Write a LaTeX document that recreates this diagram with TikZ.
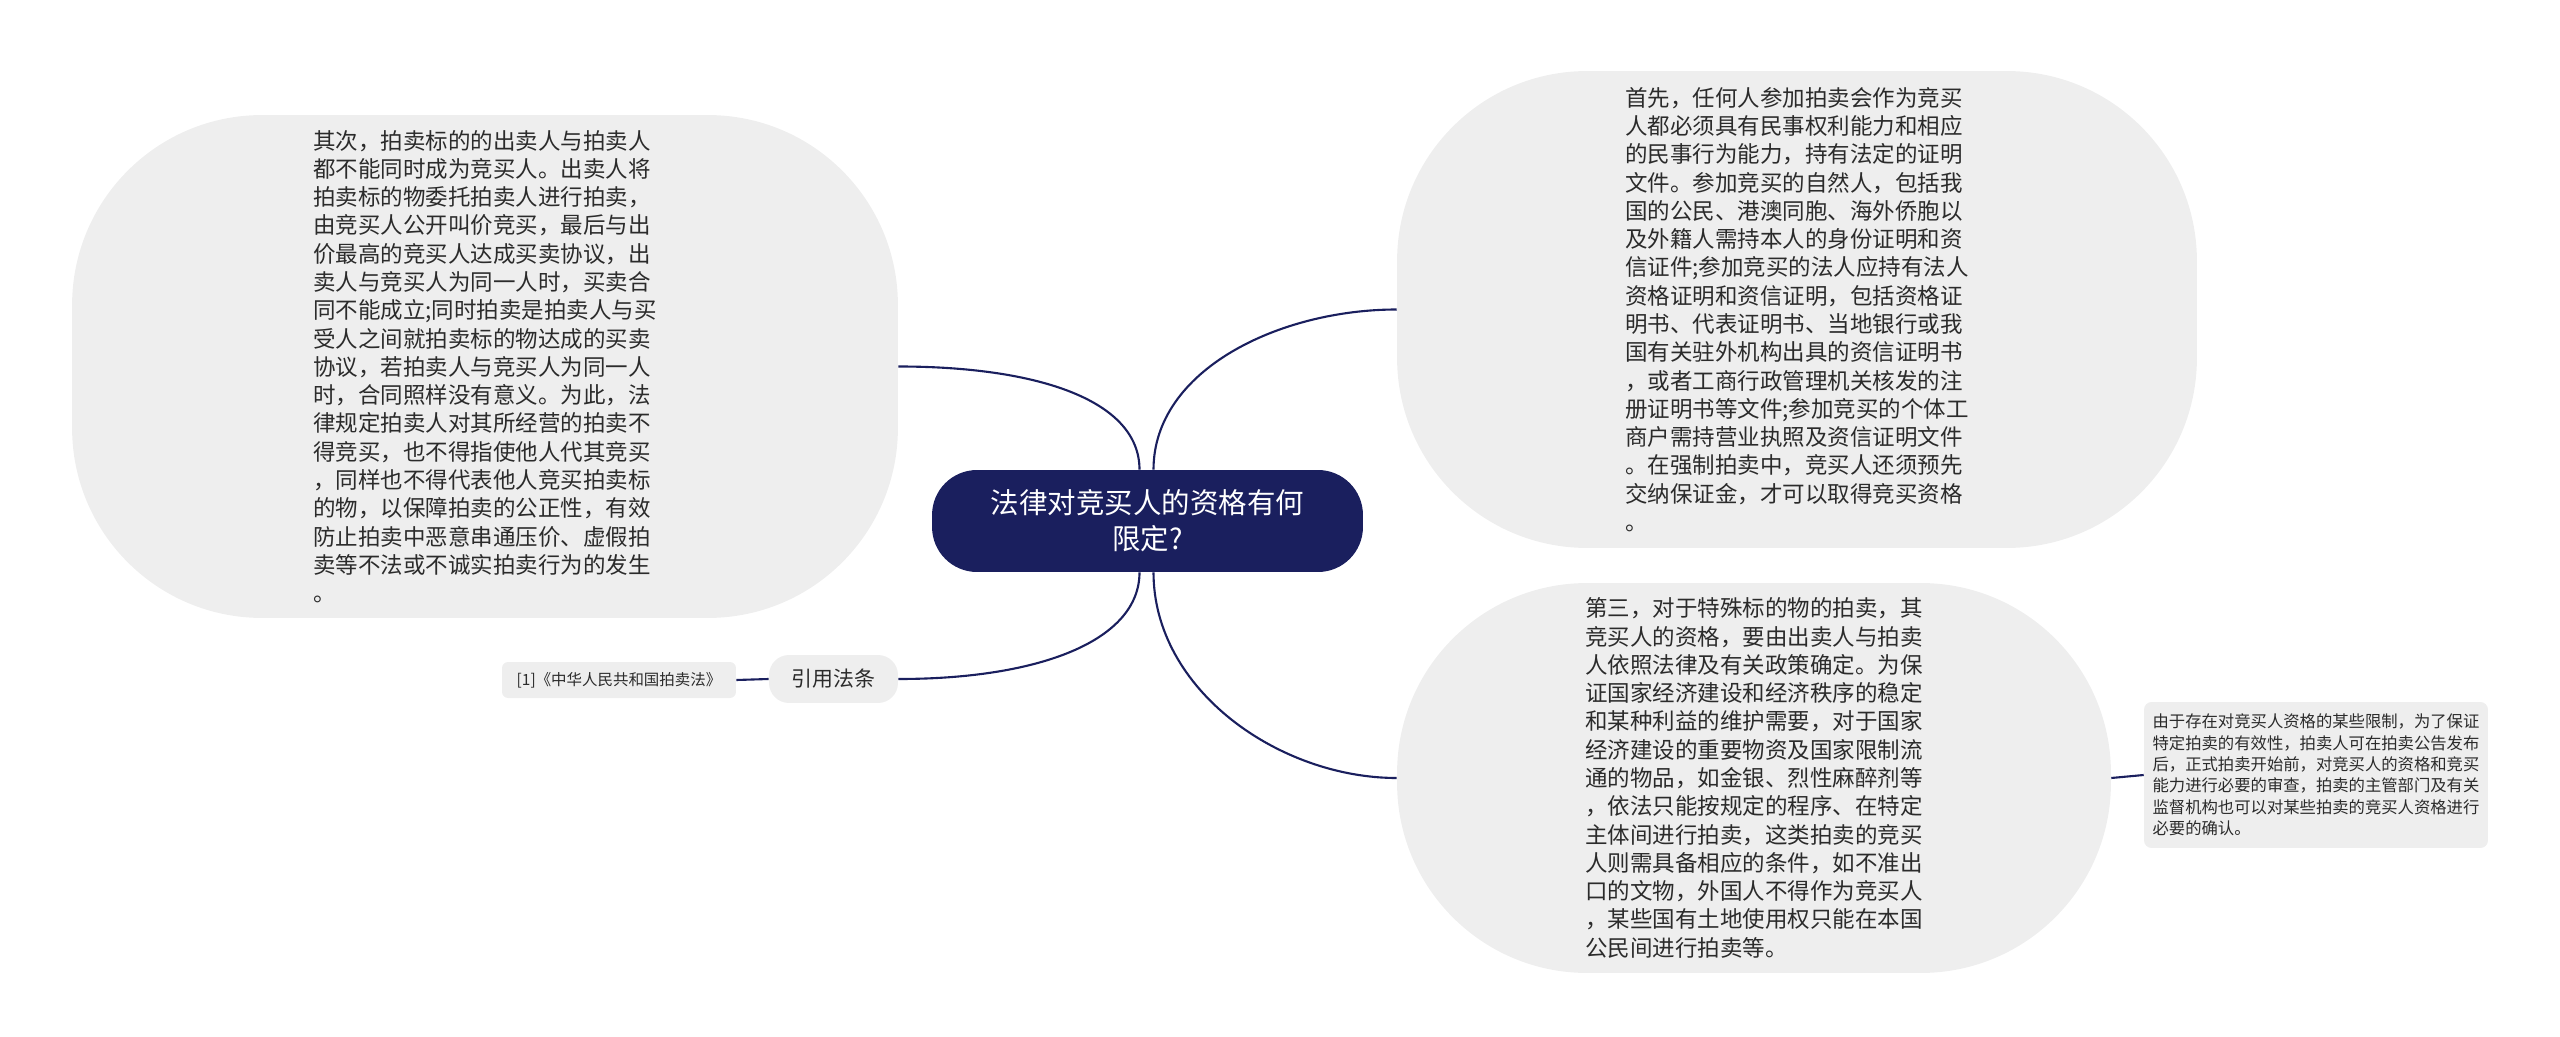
\documentclass[tikz,border=0pt]{standalone}
\usepackage{fontspec}
\setmainfont{Noto Sans CJK SC}
\usepackage{xcolor}
\usepackage{tikz}
\usetikzlibrary{positioning}
\definecolor{navy}{HTML}{1A1F5E}
\definecolor{pale}{HTML}{EEEEEE}
\definecolor{ink}{HTML}{2B2B2B}
\tikzset{
  topic/.style={fill=navy, text=white, rounded corners=0.9cm, inner sep=0pt, align=center,
    font=\fontsize{16.2}{20.4}\selectfont},
  bubble/.style={fill=pale, text=ink, rounded corners=3.8cm, inner sep=0pt, align=left,
    font=\fontsize{12.8}{16.1}\selectfont},
  tag/.style={fill=pale, text=ink, rounded corners=0.4cm, inner sep=0pt,
    font=\fontsize{11.9}{14}\selectfont},
  note/.style={fill=pale, text=ink, rounded corners=0.15cm, inner sep=0pt, align=left},
  link/.style={draw=navy, line width=1.2pt}
}

\begin{document}
\begin{tikzpicture}[x=0.02cm, y=-0.02cm]
\useasboundingbox (0,0) rectangle (2560,1037);

% central topic
\node[topic, minimum width=8.62cm, minimum height=2.04cm] (ctr) at (1147.5,521)
  {法律对竞买人的资格有何\\限定?};

% left bubble
\node[bubble, minimum width=16.52cm, minimum height=10.06cm] (q2) at (485,366.5)
  {其次，拍卖标的的出卖人与拍卖人\\
   都不能同时成为竞买人。出卖人将\\
   拍卖标的物委托拍卖人进行拍卖，\\
   由竞买人公开叫价竞买，最后与出\\
   价最高的竞买人达成买卖协议，出\\
   卖人与竞买人为同一人时，买卖合\\
   同不能成立;同时拍卖是拍卖人与买\\
   受人之间就拍卖标的物达成的买卖\\
   协议，若拍卖人与竞买人为同一人\\
   时，合同照样没有意义。为此，法\\
   律规定拍卖人对其所经营的拍卖不\\
   得竞买，也不得指使他人代其竞买\\
   ，同样也不得代表他人竞买拍卖标\\
   的物，以保障拍卖的公正性，有效\\
   防止拍卖中恶意串通压价、虚假拍\\
   卖等不法或不诚实拍卖行为的发生\\
   。};

% cited law
\node[tag, minimum width=2.58cm, minimum height=0.96cm] (cite) at (833.5,679) {引用法条};
\node[note, minimum width=4.68cm, minimum height=0.72cm, rounded corners=0.12cm,
  font=\fontsize{8.8}{10}\selectfont] (law) at (619,680) {[1]《中华人民共和国拍卖法》};

% right bubbles
\node[bubble, minimum width=16cm, minimum height=9.54cm] (q1) at (1797,309.5)
  {首先，任何人参加拍卖会作为竞买\\
   人都必须具有民事权利能力和相应\\
   的民事行为能力，持有法定的证明\\
   文件。参加竞买的自然人，包括我\\
   国的公民、港澳同胞、海外侨胞以\\
   及外籍人需持本人的身份证明和资\\
   信证件;参加竞买的法人应持有法人\\
   资格证明和资信证明，包括资格证\\
   明书、代表证明书、当地银行或我\\
   国有关驻外机构出具的资信证明书\\
   ，或者工商行政管理机关核发的注\\
   册证明书等文件;参加竞买的个体工\\
   商户需持营业执照及资信证明文件\\
   。在强制拍卖中，竞买人还须预先\\
   交纳保证金，才可以取得竞买资格\\
   。};
\node[bubble, minimum width=14.28cm, minimum height=7.8cm] (q3) at (1754,778)
  {第三，对于特殊标的物的拍卖，其\\
   竞买人的资格，要由出卖人与拍卖\\
   人依照法律及有关政策确定。为保\\
   证国家经济建设和经济秩序的稳定\\
   和某种利益的维护需要，对于国家\\
   经济建设的重要物资及国家限制流\\
   通的物品，如金银、烈性麻醉剂等\\
   ，依法只能按规定的程序、在特定\\
   主体间进行拍卖，这类拍卖的竞买\\
   人则需具备相应的条件，如不准出\\
   口的文物，外国人不得作为竞买人\\
   ，某些国有土地使用权只能在本国\\
   公民间进行拍卖等。};
\node[note, minimum width=6.88cm, minimum height=2.92cm,
  font=\fontsize{9.3}{12.2}\selectfont] (extra) at (2316,775)
  {由于存在对竞买人资格的某些限制，为了保证\\
   特定拍卖的有效性，拍卖人可在拍卖公告发布\\
   后，正式拍卖开始前，对竞买人的资格和竞买\\
   能力进行必要的审查，拍卖的主管部门及有关\\
   监督机构也可以对某些拍卖的竞买人资格进行\\
   必要的确认。};

% connectors
\draw[link] ([xshift=-0.16cm]ctr.north) .. controls +(0,-70) and +(138,0) .. (q2.east);
\draw[link] ([xshift=0.12cm]ctr.north) .. controls +(0,-100) and +(-117,0) .. (q1.west);
\draw[link] ([xshift=-0.16cm]ctr.south) .. controls +(0,68) and +(142,0) .. (cite.east);
\draw[link] ([xshift=0.12cm]ctr.south) .. controls +(0,118) and +(-117,0) .. (q3.west);
\draw[link] (cite.west) -- (law.east);
\draw[link] (q3.east) -- (extra.west);
\end{tikzpicture}
\end{document}
